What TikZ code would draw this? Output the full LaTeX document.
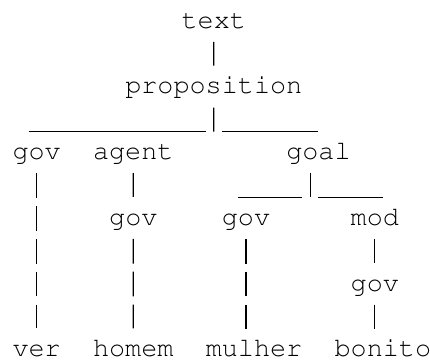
\documentclass[tikz,border=0pt]{standalone}
\usepackage[T1]{fontenc}
\usepackage{courier}
\begin{document}
\begin{tikzpicture}[x=1pt,y=1pt,
  word/.style={anchor=base west,inner sep=0pt,outer sep=0pt,text height=0pt,text depth=0pt,
    font=\fontsize{26.83}{32.84}\ttfamily\selectfont},
  pipe/.style={line width=1.2pt,dash pattern=on 24.7pt off 8.14pt,shorten <=13.04pt},
  pipelong/.style={pipe,shorten >=27.94pt},
  bar/.style={line width=1.2pt}]
\useasboundingbox (0,0) rectangle (430,363);
% words (column left edge = 12.55 + 16.1*col, baseline = 334.70 - 32.84*row)
\node[word] (txt)    at (181.60,334.70) {text};
\node[word] (prop)   at (125.25,269.02) {proposition};
\node[word] (gova)   at (12.55,203.34)  {gov};
\node[word] (agent)  at (93.05,203.34)  {agent};
\node[word] (goal)   at (286.25,203.34) {goal};
\node[word] (govb)   at (109.15,137.66) {gov};
\node[word] (govc)   at (221.85,137.66) {gov};
\node[word] (mod)    at (350.65,137.66) {mod};
\node[word] (govd)   at (350.65,71.98)  {gov};
\node[word] (ver)    at (12.55,6.30)    {ver};
\node[word] (homem)  at (93.05,6.30)    {homem};
\node[word] (mulher) at (205.75,6.30)   {mulher};
\node[word] (bonito) at (334.55,6.30)   {bonito};
% junction points of the underscore bars
\coordinate (splitA) at (213.80,231.28);
\coordinate (barAL)  at (28.65,231.28);
\coordinate (barAM)  at (205.75,231.28);
\coordinate (barAN)  at (221.85,231.28);
\coordinate (barAR)  at (318.45,231.28);
\coordinate (splitB) at (310.40,165.60);
\coordinate (barBL)  at (237.95,165.60);
\coordinate (barBM)  at (302.35,165.60);
\coordinate (barBN)  at (318.45,165.60);
\coordinate (barBR)  at (382.85,165.60);
% connectors
\draw[pipelong] (txt) -- (prop);
\draw[pipe] (prop) -- (splitA);
\draw[bar] (barAL) -- (barAM);
\draw[bar] (barAN) -- (barAR);
\draw[pipe] (splitB |- goal) -- (splitB);
\draw[bar] (barBL) -- (barBM);
\draw[bar] (barBN) -- (barBR);
\draw[pipelong] (gova) -- (ver);
\draw[pipelong] (agent) -- (govb);
\draw[pipelong] (govb) -- (homem);
\draw[pipelong] (govc) -- (govc |- mulher);
\draw[pipelong] (mod) -- (govd);
\draw[pipelong] (govd) -- (govd |- bonito);
\end{tikzpicture}
\end{document}
